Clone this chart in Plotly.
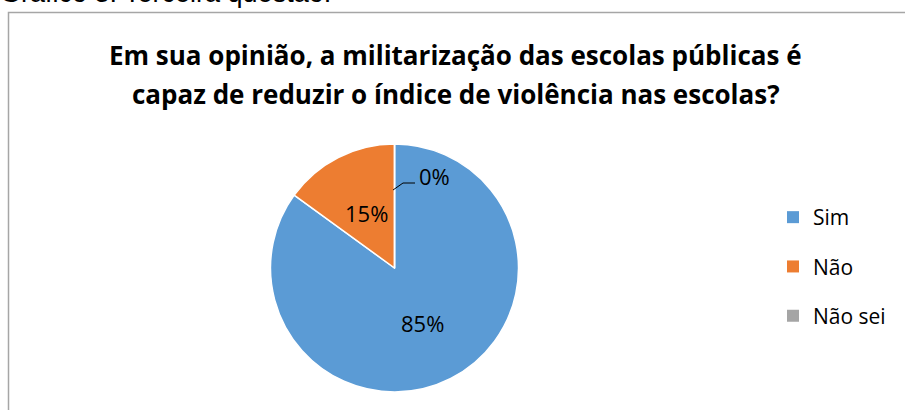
import math
import plotly.graph_objects as go

labels = ["Sim", "Não", "Não sei"]
values = [85, 15, 0]
colors = ["#5B9BD5", "#ED7D31", "#A5A5A5"]
title_lines = ["Em sua opinião, a militarização das escolas públicas é",
               "capaz de reduzir o índice de violência nas escolas?"]
caption = "Gráfico 3. Terceira questão."

W, H = 905, 410
cx, cy, r = 394.5, 268, 124

fig = go.Figure()
fig.add_trace(go.Pie(
    labels=labels, values=values, sort=False, direction="clockwise", rotation=0,
    marker=dict(colors=colors, line=dict(color="white", width=1.5)),
    textinfo="none",
    showlegend=False, hoverinfo="label+percent",
    domain=dict(x=[(cx - r) / W, (cx + r) / W], y=[(H - cy - r) / H, (H - cy + r) / H]),
))

# percentage labels at half radius along each slice's mid angle (Excel style)
total = sum(values)
cum = 0
for v in values:
    if v > 0:
        mid = (cum + v / 2) / total * 2 * math.pi
        lx = cx + 0.5 * r * math.sin(mid)
        ly = cy - 0.5 * r * math.cos(mid)
        fig.add_annotation(x=lx / W, y=1 - ly / H, xref="paper", yref="paper",
                           text=f"{v / total:.0%}", showarrow=False,
                           xanchor="center", yanchor="middle",
                           font=dict(family="Open Sans", size=22, color="#000000"))
    cum += v

# legend entries
for lab, col in zip(labels, colors):
    fig.add_trace(go.Scatter(
        x=[None], y=[None], mode="markers", name=lab, legendgroup=lab,
        marker=dict(symbol="square", size=12, color=col),
        showlegend=True,
    ))

# 0% label with leader line
zero_pct = f"{values[2] / total:.0%}"
fig.add_shape(type="path", xref="paper", yref="paper",
              path=f"M {393/W} {1-190/H} L {403/W} {1-183/H} L {415/W} {1-183/H}",
              line=dict(color="black", width=1))
fig.add_annotation(x=417 / W, y=1 - 176 / H, xref="paper", yref="paper",
                   text=zero_pct, showarrow=False, xanchor="left", yanchor="middle",
                   font=dict(family="Open Sans", size=22, color="#000000"))

# chart border (top and left visible)
fig.add_shape(type="path", xref="paper", yref="paper",
              path=f"M {8.5/W} -0.1 L {8.5/W} {1-12.5/H} L 1.1 {1-12.5/H}",
              line=dict(color="#A6A6A6", width=1.5))

# caption, partially cut at top
fig.add_annotation(x=-2 / W, y=1 - 10 / H, xref="paper", yref="paper", text=caption,
                   showarrow=False, xanchor="left", yanchor="bottom",
                   font=dict(family="Liberation Sans", size=27, color="#000000"))

for line, yc in zip(title_lines, [55, 94]):
    fig.add_annotation(x=456 / W, y=1 - yc / H, xref="paper", yref="paper",
                       text=f"<b>{line}</b>",
                       showarrow=False, xanchor="center", yanchor="middle",
                       font=dict(family="Open Sans", size=26, color="#000000"))

fig.update_layout(
    width=W, height=H, margin=dict(l=0, r=0, t=0, b=0),
    paper_bgcolor="white", plot_bgcolor="white",
    xaxis=dict(visible=False), yaxis=dict(visible=False),
    legend=dict(x=773 / W, y=1 - 197 / H, xanchor="left", yanchor="top",
                tracegroupgap=19, font=dict(family="Open Sans", size=21, color="#000000"),
                bgcolor="rgba(0,0,0,0)"),
)

fig.write_html("out.html", config={"displayModeBar": False},
               post_script="document.body.style.margin='0px';")
